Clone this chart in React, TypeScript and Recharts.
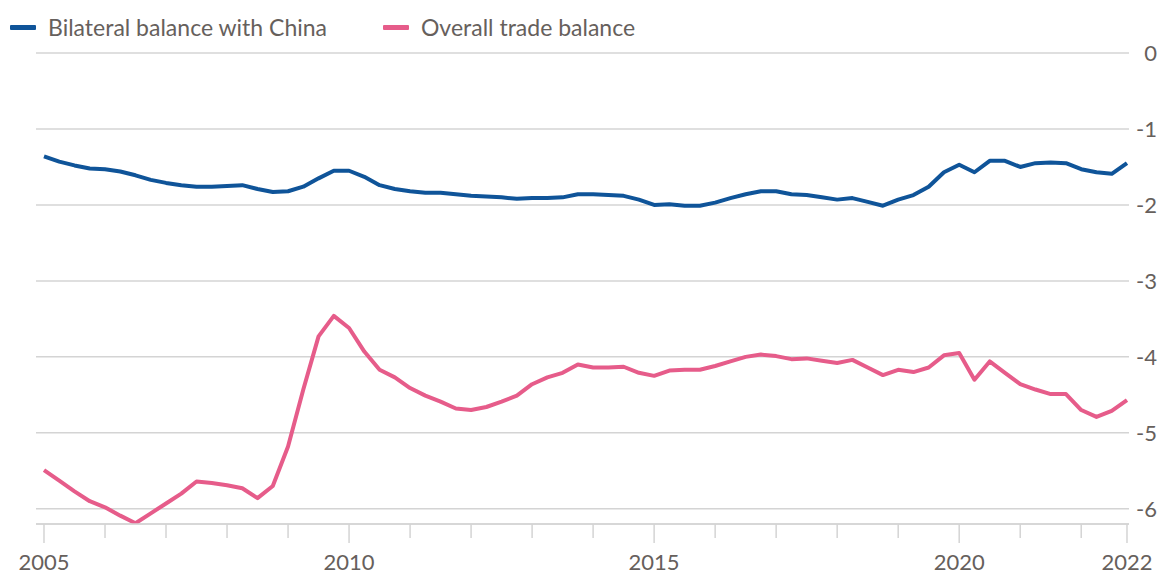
import React from "react";
import { LineChart, Line, XAxis, YAxis, CartesianGrid } from "recharts";

// Quarterly periods, 2005 Q1 – 2022 Q4
const years = [2005, 2006, 2007, 2008, 2009, 2010, 2011, 2012, 2013, 2014, 2015, 2016, 2017, 2018, 2019, 2020, 2021, 2022];
const quarterOffsets = [0, 0.25, 0.5, 0.75];

const bilateral = [
  -1.36, -1.43, -1.48, -1.52, -1.53, -1.56, -1.61, -1.67, -1.71, -1.74, -1.76, -1.76,
  -1.75, -1.74, -1.79, -1.83, -1.82, -1.76, -1.65, -1.55, -1.55, -1.63, -1.74, -1.79,
  -1.82, -1.84, -1.84, -1.86, -1.88, -1.89, -1.9, -1.92, -1.91, -1.91, -1.9, -1.86,
  -1.86, -1.87, -1.88, -1.93, -2.0, -1.99, -2.01, -2.01, -1.97, -1.91, -1.86, -1.82,
  -1.82, -1.86, -1.87, -1.9, -1.93, -1.91, -1.96, -2.01, -1.93, -1.87, -1.76, -1.57,
  -1.47, -1.57, -1.42, -1.42, -1.5, -1.45, -1.44, -1.45, -1.53, -1.57, -1.59, -1.45,
];

const overall = [
  -5.49, -5.63, -5.77, -5.9, -5.98, -6.09, -6.19, -6.06, -5.93, -5.8, -5.64, -5.66,
  -5.69, -5.73, -5.86, -5.7, -5.18, -4.43, -3.73, -3.46, -3.62, -3.93, -4.17, -4.27,
  -4.41, -4.51, -4.59, -4.68, -4.7, -4.66, -4.59, -4.51, -4.36, -4.27, -4.21, -4.1,
  -4.14, -4.14, -4.13, -4.21, -4.25, -4.18, -4.17, -4.17, -4.12, -4.06, -4.0, -3.97,
  -3.99, -4.03, -4.02, -4.05, -4.08, -4.04, -4.14, -4.24, -4.17, -4.2, -4.14, -3.98,
  -3.95, -4.3, -4.06, -4.21, -4.36, -4.43, -4.49, -4.49, -4.7, -4.79, -4.71, -4.57,
];

const xTicks = [2005, 2006, 2007, 2008, 2009, 2010, 2011, 2012, 2013, 2014, 2015, 2016, 2017, 2018, 2019, 2020, 2021, 2022, 2022.75];
const xTickLabels: Record<string, string> = {
  "2005": "2005",
  "2010": "2010",
  "2015": "2015",
  "2020": "2020",
  "2022.75": "2022",
};
const yTicks = [0, -1, -2, -3, -4, -5, -6];

const seriesNames = ["Bilateral balance with China", "Overall trade balance"];
const BLUE = "#0f5499";
const PINK = "#e65c8a";
const TEXT = "#66605c";
const GRID = "#d4d4d4";
const FONT = "Lato, 'Open Sans', sans-serif";
const FS = 23;
const TICK_FS = 22;

const periods = years.flatMap((y) => quarterOffsets.map((q) => y + q));
const data = periods.map((t, i) => ({ t, bilateral: bilateral[i], overall: overall[i] }));

const XTick = (props: any) => {
  const { x, y, payload } = props;
  const key = String(payload.value);
  const label = xTickLabels[key];
  const len = label ? 19 : 14;
  return (
    <g>
      <line x1={x} x2={x} y1={y} y2={y + len} stroke={GRID} strokeWidth={1.5} />
      {label && (
        <text x={x} y={y + 38} dy="0.35em" textAnchor="middle" fill={TEXT} fontSize={TICK_FS} fontFamily={FONT}>
          {label}
        </text>
      )}
    </g>
  );
};

const YTick = (props: any) => {
  const { x, y, payload } = props;
  return (
    <text x={x + 28} y={y} dy="0.35em" textAnchor="end" fill={TEXT} fontSize={TICK_FS} fontFamily={FONT}>
      {payload.value}
    </text>
  );
};

const LegendItem = ({ color, label, left }: { color: string; label: string; left: number }) => (
  <div style={{ position: "absolute", left, top: 13, display: "flex", alignItems: "center" }}>
    <div style={{ width: 26, height: 5, background: color, marginRight: 12, borderRadius: 1 }} />
    <span style={{ fontFamily: FONT, fontSize: FS, color: TEXT, lineHeight: "28px" }}>{label}</span>
  </div>
);

export default function App() {
  return (
    <div style={{ position: "relative", width: 1166, height: 576, background: "#fff" }}>
      <style>{"body{margin:0}"}</style>
      <LegendItem color={BLUE} label={seriesNames[0]} left={10} />
      <LegendItem color={PINK} label={seriesNames[1]} left={383} />
      <LineChart width={1166} height={576} data={data} margin={{ top: 53, right: 0, left: 36, bottom: 0 }}>
        <CartesianGrid horizontal vertical={false} stroke={GRID} strokeWidth={1.5} />
        <XAxis
          type="number"
          dataKey="t"
          domain={[2004.869, 2022.783]}
          ticks={xTicks}
          interval={0}
          height={52}
          tickSize={0}
          tickMargin={0}
          tickLine={false}
          axisLine={{ stroke: GRID, strokeWidth: 1.5 }}
          tick={<XTick />}
          allowDataOverflow
        />
        <YAxis
          orientation="right"
          domain={[-6.2, 0]}
          ticks={yTicks}
          interval={0}
          width={37}
          tickSize={0}
          tickMargin={0}
          tickLine={false}
          axisLine={false}
          tick={<YTick />}
          allowDataOverflow
        />
        <Line
          type="linear"
          dataKey="overall"
          name={seriesNames[1]}
          stroke={PINK}
          strokeWidth={4}
          dot={false}
          strokeLinejoin="round"
          isAnimationActive={false}
        />
        <Line
          type="linear"
          dataKey="bilateral"
          name={seriesNames[0]}
          stroke={BLUE}
          strokeWidth={4}
          dot={false}
          strokeLinejoin="round"
          isAnimationActive={false}
        />
      </LineChart>
    </div>
  );
}
